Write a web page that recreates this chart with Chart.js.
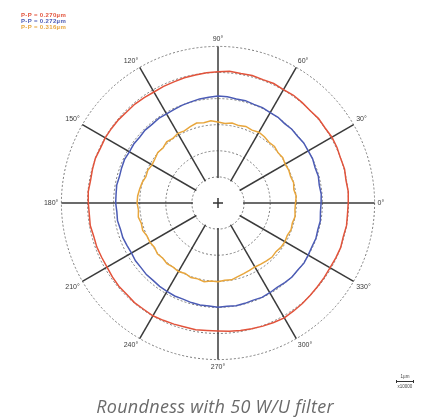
<!DOCTYPE html>
<html>
<head>
<meta charset="utf-8">
<script src="https://cdn.jsdelivr.net/npm/chart.js@4.4.1/dist/chart.umd.min.js"></script>
<style>
  body { margin: 0; background: #ffffff; }
  #wrap { position: relative; width: 423px; height: 420px; overflow: hidden; }
  #grafica { position: absolute; left: 0; top: 0; width: 423px; height: 420px; }
  #leyenda { position: absolute; left: 21px; top: 12px; font-family: "Liberation Sans", Arial, sans-serif; font-size: 6px; font-weight: bold; line-height: 6px; letter-spacing: 0.35px; }
  #escala { position: absolute; left: 396px; top: 374px; width: 18px; font-family: "Liberation Sans", Arial, sans-serif; font-size: 4.5px; color: #444; text-align: center; }
  #escala .barra { height: 3px; border-left: 1px solid #333; border-right: 1px solid #333; position: relative; margin: 1px 0; }
  #escala .barra:after { content: ""; position: absolute; left: 0; right: 0; top: 1px; border-top: 1px solid #333; }
  #pie { position: absolute; left: 0; width: 430px; top: 394px; text-align: center; font-family: "Open Sans", sans-serif; font-style: italic; font-size: 18px; letter-spacing: 0.3px; color: #6b6b6b; }
</style>
</head>
<body>
<div id="wrap">
  <div id="grafica"><canvas id="polar_redondez"></canvas></div>
  <div id="leyenda"></div>
  <div id="escala">1µm<div class="barra"></div>x10000</div>
  <div id="pie">Roundness with 50 W/U filter</div>
</div>
<script>
// angulos cada 5 grados (0 a la derecha, sentido antihorario)
var angulos = [0, 5, 10, 15, 20, 25, 30, 35, 40, 45, 50, 55, 60, 65, 70, 75, 80, 85,
  90, 95, 100, 105, 110, 115, 120, 125, 130, 135, 140, 145, 150, 155, 160, 165, 170, 175,
  180, 185, 190, 195, 200, 205, 210, 215, 220, 225, 230, 235, 240, 245, 250, 255, 260, 265,
  270, 275, 280, 285, 290, 295, 300, 305, 310, 315, 320, 325, 330, 335, 340, 345, 350, 355];

// radios (en divisiones de la rejilla)
var perfilRojo = [4.99, 5.01, 4.98, 5.02, 5.00, 5.03, 5.04, 5.01, 5.03, 5.00, 5.02, 5.04, 5.02, 5.05, 5.03, 5.06, 5.04, 5.07,
  5.03, 5.01, 4.98, 4.97, 4.94, 4.93, 4.91, 4.93, 4.95, 4.94, 4.97, 4.98, 4.99, 4.97, 5.00, 4.98, 4.96, 4.99,
  4.97, 4.95, 4.97, 4.93, 4.94, 4.92, 4.91, 4.94, 4.96, 4.95, 4.98, 4.97, 4.99, 4.96, 4.94, 4.92, 4.93, 4.90,
  4.90, 4.93, 4.96, 4.99, 5.02, 5.05, 5.08, 5.05, 5.03, 5.00, 4.98, 4.97, 4.96, 4.98, 5.00, 4.97, 5.00, 4.98];

var perfilAzul = [3.95, 3.97, 3.94, 3.98, 3.96, 4.00, 3.99, 4.01, 3.98, 4.00, 3.97, 4.01, 4.00, 4.03, 4.02, 4.06, 4.05, 4.09,
  4.10, 4.07, 4.05, 4.01, 3.99, 3.96, 3.94, 3.96, 3.93, 3.95, 3.92, 3.94, 3.92, 3.95, 3.93, 3.91, 3.94, 3.92,
  3.92, 3.89, 3.91, 3.87, 3.88, 3.85, 3.83, 3.86, 3.85, 3.88, 3.87, 3.90, 3.91, 3.93, 3.92, 3.95, 3.97, 3.96,
  3.99, 3.97, 4.00, 3.98, 3.96, 3.99, 3.97, 3.95, 3.98, 4.01, 3.99, 4.02, 3.99, 3.97, 3.99, 3.96, 3.98, 3.94];

var perfilAmarillo = [2.97, 3.01, 2.95, 3.00, 2.96, 2.99, 2.97, 3.03, 3.00, 3.06, 3.04, 3.10, 3.13, 3.08, 3.12, 3.07, 3.11, 3.06,
  3.10, 3.16, 3.12, 3.17, 3.11, 3.05, 3.08, 3.02, 3.06, 2.98, 3.01, 2.95, 2.92, 2.97, 2.94, 3.01, 3.05, 3.09,
  3.10, 3.06, 3.10, 3.04, 3.07, 3.00, 3.01, 2.97, 3.03, 2.99, 3.04, 3.00, 3.03, 2.98, 3.04, 3.01, 3.06, 3.00,
  3.02, 2.97, 2.99, 2.92, 2.88, 2.85, 2.83, 2.86, 2.89, 2.93, 2.90, 2.95, 2.96, 2.93, 2.98, 2.95, 3.00, 2.96];

var valoresPP = ["0.270", "0.272", "0.316"];
var colores = ["#e2533b", "#4b5bb5", "#e8a63c"];

// el radar avanza en sentido horario: se reordena para que el angulo crezca antihorario
function ordenHorario(lista) {
  var salida = [];
  for (var i = 0; i < lista.length; i++) {
    salida.push(lista[(lista.length - i) % lista.length]);
  }
  return salida;
}

var etiquetas = ordenHorario(angulos);
var perfiles = [perfilRojo, perfilAzul, perfilAmarillo];

var html = "";
for (var k = 0; k < valoresPP.length; k++) {
  html += '<div style="color:' + colores[k] + '">P-P = ' + valoresPP[k] + 'µm</div>';
}
document.getElementById("leyenda").innerHTML = html;

var datasets = [];
for (var j = 0; j < perfiles.length; j++) {
  datasets.push({
    label: "P-P = " + valoresPP[j],
    data: ordenHorario(perfiles[j]),
    borderColor: colores[j],
    borderWidth: 1.5,
    pointRadius: 0,
    fill: false,
    tension: 0,
  });
}

// hueco central con la cruz
var centroPlugin = {
  id: "centro",
  beforeDatasetsDraw: function (chart) {
    var r = chart.scales.r;
    var ctx = chart.ctx;
    var hueco = r.getDistanceFromCenterForValue(1) - 1;
    ctx.save();
    ctx.fillStyle = "#ffffff";
    ctx.beginPath();
    ctx.arc(r.xCenter, r.yCenter, hueco, 0, Math.PI * 2);
    ctx.fill();
    ctx.strokeStyle = "#333333";
    ctx.lineWidth = 1.5;
    ctx.beginPath();
    ctx.moveTo(r.xCenter - 5, r.yCenter);
    ctx.lineTo(r.xCenter + 5, r.yCenter);
    ctx.moveTo(r.xCenter, r.yCenter - 5);
    ctx.lineTo(r.xCenter, r.yCenter + 5);
    ctx.stroke();
    ctx.restore();
  },
};

var ctx = document.getElementById("polar_redondez").getContext("2d");
var myChart = new Chart(ctx, {
  type: "radar",
  data: {
    labels: etiquetas,
    datasets: datasets,
  },
  options: {
    responsive: true,
    maintainAspectRatio: false,
    animation: false,
    layout: { padding: { left: 13, right: 0, top: 35, bottom: 48 } },
    plugins: {
      legend: { display: false },
      tooltip: { enabled: false },
    },
    scales: {
      r: {
        min: 0,
        max: 6,
        startAngle: 90,
        ticks: { display: false, stepSize: 1 },
        grid: { circular: true, color: "#7a7a7a", lineWidth: 1 },
        border: { dash: [2, 2] },
        angleLines: {
          color: function (context) {
            return etiquetas[context.index] % 30 === 0 ? "#3a3a3a" : "rgba(0,0,0,0)";
          },
          lineWidth: 1.5,
        },
        pointLabels: {
          padding: 3,
          color: "#3a3a3a",
          font: { family: "Liberation Sans", size: 7 },
          callback: function (value) {
            return value % 30 === 0 ? value + "°" : "";
          },
        },
      },
    },
  },
  plugins: [centroPlugin],
});
</script>
</body>
</html>
